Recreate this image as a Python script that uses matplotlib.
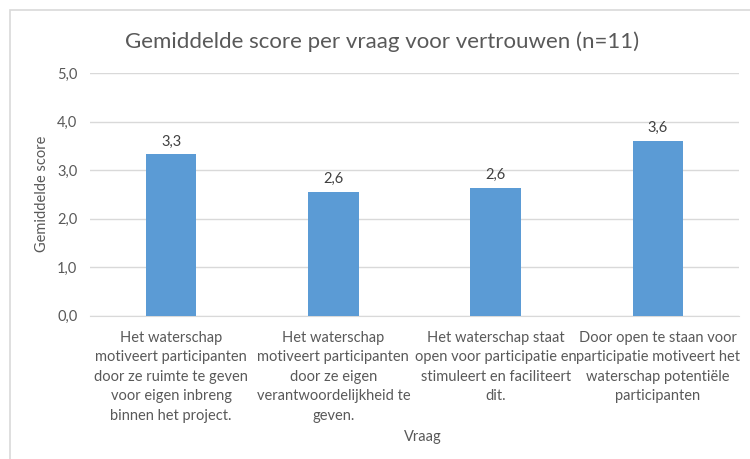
import matplotlib
matplotlib.use("Agg")
import matplotlib.pyplot as plt
from matplotlib.patches import Rectangle

categories = [
    "Het waterschap\nmotiveert participanten\ndoor ze ruimte te geven\nvoor eigen inbreng\nbinnen het project.",
    "Het waterschap\nmotiveert participanten\ndoor ze eigen\nverantwoordelijkheid te\ngeven.",
    "Het waterschap staat\nopen voor participatie en\nstimuleert en faciliteert\ndit.",
    "Door open te staan voor\nparticipatie motiveert het\nwaterschap potentiële\nparticipanten",
]
values = [3.33, 2.56, 2.63, 3.60]
yticks = [0, 1, 2, 3, 4, 5]
title = "Gemiddelde score per vraag voor vertrouwen (n=11)"
xlabel = "Vraag"
ylabel = "Gemiddelde score"

plt.rcParams["font.family"] = ["Lato", "DejaVu Sans"]
txt = "#595959"

fig = plt.figure(figsize=(7.5, 4.59), dpi=100)
ax = fig.add_axes([0.12, 0.3122, 0.8653, 0.5281])

x = list(range(len(categories)))
bars = ax.bar(x, values, width=0.31, color="#5B9BD5", zorder=3)
for xi, v in zip(x, values):
    ax.text(xi, v + 0.12, f"{v:.1f}".replace(".", ","), ha="center", va="bottom",
            fontsize=10.5, color="#404040")

ax.set_xlim(-0.5, len(categories) - 0.5)
ax.set_ylim(0, 5)
ax.set_yticks(yticks)
ax.set_yticklabels([f"{t:.1f}".replace(".", ",") for t in yticks])
ax.set_xticks(x)
ax.set_xticklabels(categories, fontsize=10.5, color=txt, linespacing=1.5, ha="center")
ax.tick_params(axis="y", length=0, pad=9, labelsize=10.5, labelcolor=txt)
ax.tick_params(axis="x", length=0, pad=11)
ax.grid(axis="y", color="#D9D9D9", linewidth=1, zorder=0)
for s in ["top", "right", "left"]:
    ax.spines[s].set_visible(False)
ax.spines["bottom"].set_color("#D9D9D9")
ax.spines["bottom"].set_zorder(1)

ax.set_ylabel(ylabel, fontsize=10.5, color=txt)
ax.yaxis.set_label_coords(42 / 750, 0.5, transform=fig.transFigure)
ax.yaxis.label.set_position((42 / 750, 1 - 194 / 459))
ax.yaxis.label.set_va("center")
fig.text(0.5633, 1 - 437 / 459, xlabel, ha="center", va="center", fontsize=10.5, color=txt)
fig.text(0.509, 1 - 42 / 459, title, ha="center", va="center", fontsize=16, color=txt)

# chart border (partially cropped)
fig.patches.append(Rectangle((10 / 750, -0.1), 1.2, 1 - 10 / 459 + 0.1,
                             transform=fig.transFigure, fill=False,
                             edgecolor="#D9D9D9", linewidth=1.2))

fig.savefig("out.png", dpi=100)
